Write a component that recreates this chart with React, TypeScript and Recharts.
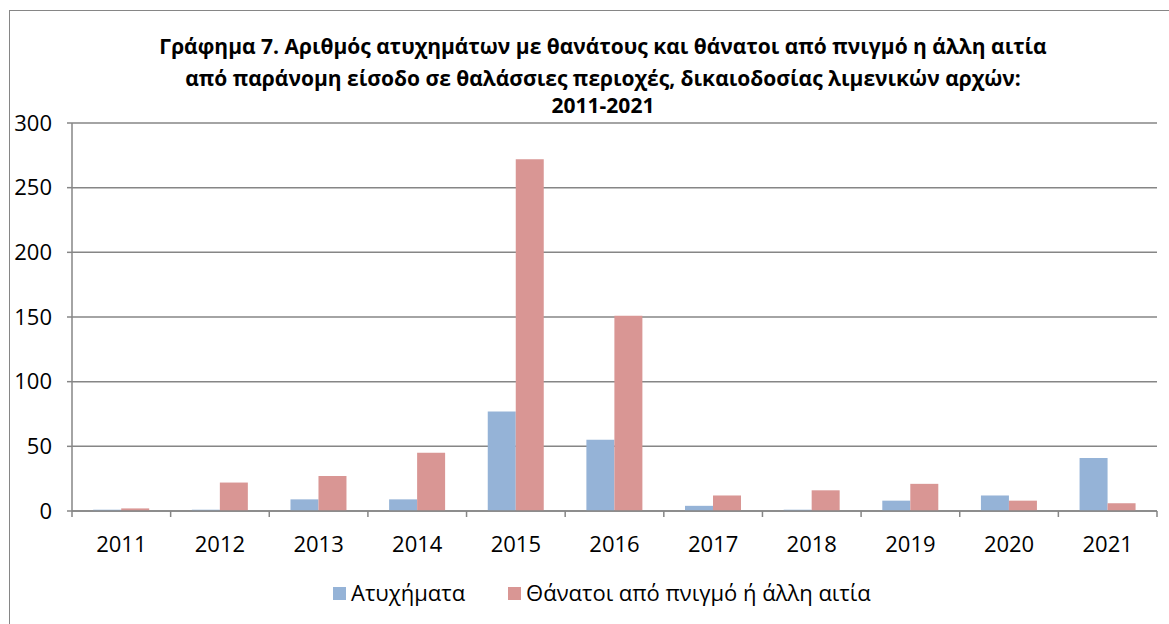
import React from 'react';
import { BarChart, Bar, XAxis, YAxis, CartesianGrid } from 'recharts';

const years = ['2011', '2012', '2013', '2014', '2015', '2016', '2017', '2018', '2019', '2020', '2021'];
const accidents = [1, 1, 9, 9, 77, 55, 4, 1, 8, 12, 41];
const deaths = [2, 22, 27, 45, 272, 151, 12, 16, 21, 8, 6];
const yTicks = [0, 50, 100, 150, 200, 250, 300];
const seriesNames = ['Ατυχήματα', 'Θάνατοι από πνιγμό ή άλλη αιτία'];
const seriesColors = ['#95B3D7', '#D99694'];
const titleLines = [
  'Γράφημα 7. Αριθμός ατυχημάτων με θανάτους και θάνατοι από πνιγμό η άλλη αιτία',
  'από παράνομη είσοδο σε θαλάσσιες περιοχές, δικαιοδοσίας λιμενικών αρχών:',
  '2011-2021',
];

const data = years.map((y, i) => ({ year: y, a: accidents[i], d: deaths[i] }));

const FONT = '"Open Sans", "Noto Sans", sans-serif';
const GRID = '#868686';
const titleTops = [30, 62, 89];

const XTick = (props: any) => {
  const { x, y, payload, index, visibleTicksCount } = props;
  const off = payload.offset || 0;
  const last = index === (visibleTicksCount ?? years.length) - 1;
  return (
    <g>
      <line x1={x - off} x2={x - off} y1={y} y2={y + 6} stroke={GRID} strokeWidth={1.5} />
      {last && <line x1={x + off} x2={x + off} y1={y} y2={y + 6} stroke={GRID} strokeWidth={1.5} />}
      <text x={x} y={y + 41} textAnchor="middle" fontSize={22} fontFamily={FONT} fill="#000">
        {payload.value}
      </text>
    </g>
  );
};

export default function App() {
  return (
    <div style={{ position: 'fixed', left: 0, top: 0, width: 1169, height: 624, overflow: 'hidden', background: '#fff' }}>
      <div style={{ position: 'absolute', left: 9, top: 10, width: 1300, height: 800, border: `1px solid ${GRID}` }} />
      <div style={{ position: 'absolute', left: 0, top: 0 }}>
        <BarChart
          width={1169}
          height={624}
          data={data}
          margin={{ top: 123, right: 12, bottom: 83, left: 0 }}
          barCategoryGap="21.5%"
          barGap={0}
        >
          <CartesianGrid vertical={false} stroke={GRID} strokeWidth={1.5} />
          <XAxis
            dataKey="year"
            height={30}
            axisLine={{ stroke: GRID, strokeWidth: 1.5 }}
            tickLine={false}
            tickSize={0}
            tickMargin={0}
            tick={<XTick />}
            interval={0}
          />
          <YAxis
            width={72}
            domain={[0, 300]}
            ticks={yTicks}
            interval={0}
            axisLine={{ stroke: GRID, strokeWidth: 1.5 }}
            tickLine={{ stroke: GRID, strokeWidth: 1.5 }}
            tickSize={5}
            tickMargin={15}
            tick={{ fontSize: 22, fontFamily: FONT, fill: '#000' }}
          />
          <Bar dataKey="a" name={seriesNames[0]} fill={seriesColors[0]} isAnimationActive={false} />
          <Bar dataKey="d" name={seriesNames[1]} fill={seriesColors[1]} isAnimationActive={false} />
        </BarChart>
      </div>
      {titleLines.map((t, i) => (
        <div
          key={i}
          style={{
            position: 'absolute',
            left: 103,
            width: 1000,
            top: titleTops[i],
            textAlign: 'center',
            fontFamily: FONT,
            fontWeight: 700,
            fontSize: 21,
            lineHeight: '32px',
            color: '#000',
            whiteSpace: 'nowrap',
          }}
        >
          {t}
        </div>
      ))}
      <div
        style={{
          position: 'absolute',
          left: 333,
          top: 577,
          display: 'flex',
          fontFamily: FONT,
          fontSize: 22,
          lineHeight: '30px',
          color: '#000',
          whiteSpace: 'nowrap',
        }}
      >
        {seriesNames.map((n, i) => (
          <div key={i} style={{ display: 'flex', alignItems: 'center', marginRight: i === 0 ? 43 : 0 }}>
            <span style={{ display: 'inline-block', width: 13, height: 13, background: seriesColors[i], marginRight: 5, marginTop: 2 }} />
            <span>{n}</span>
          </div>
        ))}
      </div>
    </div>
  );
}
